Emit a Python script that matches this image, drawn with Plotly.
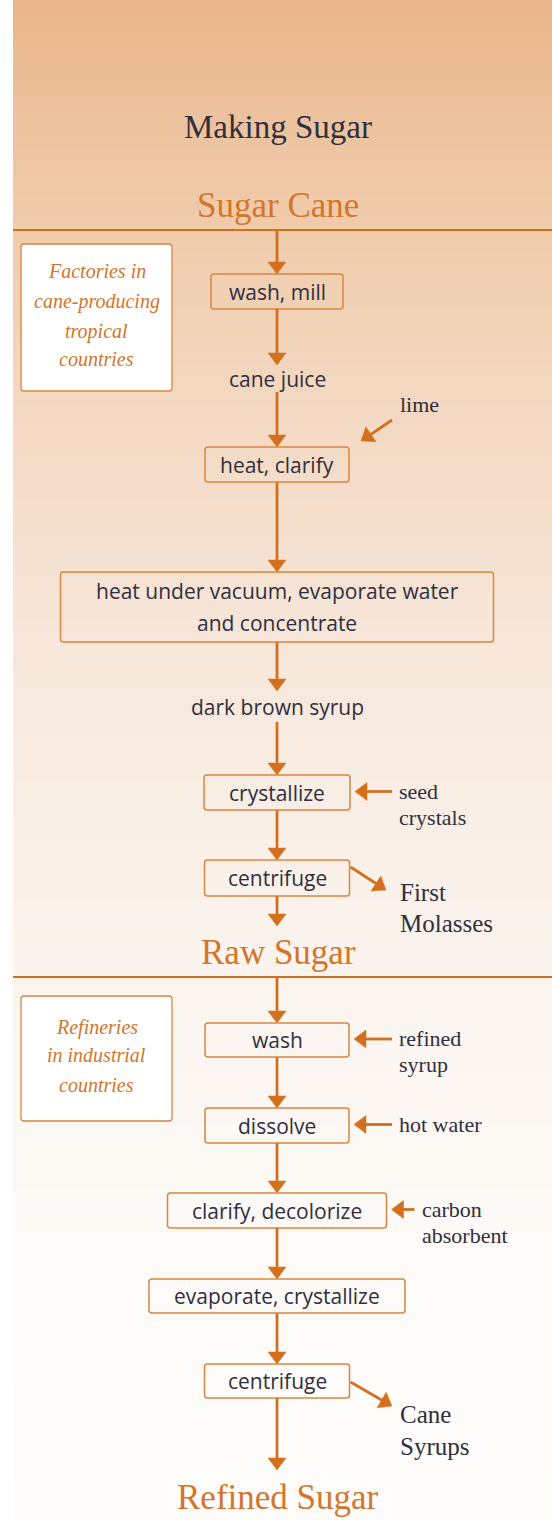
import plotly.graph_objects as go
import numpy as np

# ---------------- data (content) ----------------
title = "Making Sugar"
stages = ["Sugar Cane", "Raw Sugar", "Refined Sugar"]
regions = ["Factories in<br>cane-producing<br>tropical<br>countries",
           "Refineries<br>in industrial<br>countries"]
raw_steps = ["wash, mill", "cane juice", "heat, clarify",
             "heat under vacuum, evaporate water<br>and concentrate",
             "dark brown syrup", "crystallize", "centrifuge"]
raw_boxed = [True, False, True, True, False, True, True]
raw_inputs = [None, None, "lime", None, None, "seed<br>crystals", None]
raw_byproduct = "First<br>Molasses"
refine_steps = ["wash", "dissolve", "clarify, decolorize",
                "evaporate, crystallize", "centrifuge"]
refine_boxed = [True, True, True, True, True]
refine_inputs = ["refined<br>syrup", "hot water", "carbon<br>absorbent", None, None]
refine_byproduct = "Cane<br>Syrups"

# ---------------- layout geometry / styles ----------------
W, H = 552, 1520
LEFT = 13
CX = 277
divider_y = [230, 977]
stage_y = [205, 952, 1497]
title_y = 127
raw_box_w = [132, None, 144, 433, None, 146, 145]
raw_span = [(274, 309), (365, 392), (447, 482), (572, 642), (691, 722), (775, 810), (860, 896)]
raw_input_style = [None, None, "diag", None, None, "side", None]
refine_box_w = [144, 144, 219, 256, 145]
refine_span = [(1023, 1057), (1108, 1143), (1193, 1228), (1279, 1313), (1364, 1398)]
refine_input_style = ["side", "side", "side", None, None]
stage_arrow_end = [926, 1470]
region_box = [(21, 172, 244, 391), (21, 172, 996, 1121)]
region_line_y = [[271, 301, 331, 359], [1027, 1055, 1085]]
diag_tail, diag_tip, diag_text = (392, 420), (361, 441), (398, 404)
by_tail_dy = [7, 18]
by_tip = [(386, 890), (392, 1406)]
by_text_y = [892, 1414]

ORANGE = "#D2701F"
EDGE = "#D98740"
DARK = "#2F2F40"
T_ORANGE = "#D3752A"
SANS = "Open Sans, Noto Sans, sans-serif"
SERIF = "Liberation Serif, DejaVu Serif, serif"

bg_y = [0, 100, 230, 400, 600, 800, 1000, 1250, 1520]
bg_c = ["#E9B589", "#ECC09B", "#F0CCAC", "#F3D8C1", "#F6E4D6", "#F9EEE5",
        "#FBF5F0", "#FDFAF7", "#FEFDFB"]

fig = go.Figure()

# background gradient
edges = np.linspace(0, H, 761)
centers = (edges[:-1] + edges[1:]) / 2
fig.add_trace(go.Heatmap(
    x=[LEFT, W], y=edges, z=[[v] for v in centers], zmin=0, zmax=H,
    colorscale=[[y / H, c] for y, c in zip(bg_y, bg_c)],
    showscale=False, hoverinfo="skip"))

shapes = []
annotations = []


def text(x, y, s, size, color, family, anchor="center", italic=False):
    annotations.append(dict(
        x=x, y=y, xref="x", yref="y", text=(f"<i>{s}</i>" if italic else s),
        showarrow=False, xanchor=anchor, yanchor="middle",
        font=dict(size=size, color=color, family=family)))


def lines(x, y0, s, gap, size, color, family, anchor="center", italic=False):
    for k, part in enumerate(s.split("<br>")):
        text(x, y0 + k * gap, part, size, color, family, anchor, italic)


def arrow(x0, y0, x1, y1, L=12, hw=9):
    dx, dy = x1 - x0, y1 - y0
    n = (dx * dx + dy * dy) ** 0.5
    ux, uy = dx / n, dy / n
    bx, by = x1 - ux * L, y1 - uy * L
    px, py = -uy * hw, ux * hw
    shapes.append(dict(type="line", xref="x", yref="y", x0=x0, y0=y0,
                       x1=bx + ux, y1=by + uy, line=dict(color=ORANGE, width=2.8)))
    shapes.append(dict(type="path", xref="x", yref="y",
                       path=f"M{x1},{y1} L{bx+px},{by+py} L{bx-px},{by-py} Z",
                       fillcolor=ORANGE, line=dict(color=ORANGE, width=0.5)))


def rrect(x0, y0, x1, y1, r=3, fill="rgba(0,0,0,0)", width=1.5):
    p = (f"M{x0+r},{y0} L{x1-r},{y0} Q{x1},{y0} {x1},{y0+r} L{x1},{y1-r} "
         f"Q{x1},{y1} {x1-r},{y1} L{x0+r},{y1} Q{x0},{y1} {x0},{y1-r} "
         f"L{x0},{y0+r} Q{x0},{y0} {x0+r},{y0} Z")
    shapes.append(dict(type="path", xref="x", yref="y", path=p,
                       fillcolor=fill, line=dict(color=EDGE, width=width)))


# title and stage labels
text(CX + 1, title_y, title, 33, DARK, SERIF)
for s, y in zip(stages, stage_y):
    text(CX + 1, y, s, 35, T_ORANGE, SERIF)
for y in divider_y:
    shapes.append(dict(type="line", xref="x", yref="y", x0=LEFT, x1=W, y0=y, y1=y,
                       line=dict(color=ORANGE, width=2)))

# region boxes
for s, (x0, x1, y0, y1), ly in zip(regions, region_box, region_line_y):
    rrect(x0, y0, x1, y1, r=3, fill="white", width=1.3)
    for part, yy in zip(s.split("<br>"), ly):
        text((x0 + x1) / 2, yy, part, 20, T_ORANGE, SERIF, italic=True)


def flow(steps, boxed, widths, spans, styles, inputs, start_y, end_y, bi):
    prev = start_y
    for i, label in enumerate(steps):
        top, bot = spans[i]
        arrow(CX, prev, CX, top)
        cy = (top + bot) / 2
        if boxed[i]:
            w = widths[i]
            rrect(CX - w / 2, top, CX + w / 2, bot)
            parts = label.split("<br>")
            gap = 32
            lines(CX, cy - gap * (len(parts) - 1) / 2, label, gap, 21, DARK, SANS)
        else:
            text(CX, cy, label, 21, DARK, SANS)
        if inputs[i]:
            if styles[i] == "side":
                right = CX + widths[i] / 2
                tx = max(397, right + 33)
                arrow(tx - 5, cy - 1, right + 5, cy - 1)
                lines(tx, cy - 1.5, inputs[i], 26, 22, DARK, SERIF, anchor="left")
            else:
                arrow(diag_tail[0], diag_tail[1], diag_tip[0], diag_tip[1])
                text(diag_text[0], diag_text[1], inputs[i], 22, DARK, SERIF, anchor="left")
        prev = bot
    arrow(CX, prev, CX, end_y)
    # byproduct from the last step
    top, bot = spans[-1]
    right = CX + widths[-1] / 2
    tx, ty = by_tip[bi]
    arrow(right + 1, top + by_tail_dy[bi], tx, ty)
    return right


flow(raw_steps, raw_boxed, raw_box_w, raw_span, raw_input_style, raw_inputs,
     divider_y[0], stage_arrow_end[0], 0)
lines(398, by_text_y[0], raw_byproduct, 31, 25, DARK, SERIF, anchor="left")
flow(refine_steps, refine_boxed, refine_box_w, refine_span, refine_input_style,
     refine_inputs, divider_y[1], stage_arrow_end[1], 1)
lines(398, by_text_y[1], refine_byproduct, 32, 25, DARK, SERIF, anchor="left")

fig.update_layout(
    width=W, height=H, margin=dict(l=0, r=0, t=0, b=0, pad=0),
    paper_bgcolor="white", plot_bgcolor="white",
    xaxis=dict(range=[0, W], visible=False, fixedrange=True),
    yaxis=dict(range=[H, 0], visible=False, fixedrange=True),
    shapes=shapes, annotations=annotations, showlegend=False)

fig.write_html("out.html", config={"displayModeBar": False},
               post_script="document.body.style.margin='0';document.body.style.overflow='hidden';")
